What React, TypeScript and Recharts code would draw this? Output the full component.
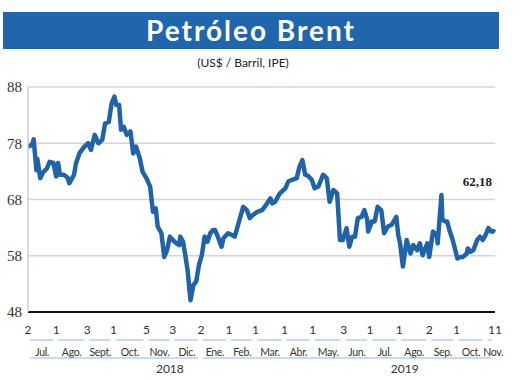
import { CartesianGrid, Line, LineChart, XAxis, YAxis } from "recharts";

// days counted from 2 Jul 2018
const days = [
  0, 3, 5, 6, 9, 10, 13, 16, 20, 23, 27, 30, 32, 34, 38, 42, 44, 47, 49, 51,
  55, 60, 64, 67, 71, 75, 79, 82, 86, 89, 92, 94, 97, 99, 102, 105, 109, 112,
  115, 119, 122, 126, 130, 133, 136, 138, 142, 145, 148, 151, 154, 158, 161,
  162, 165, 168, 170, 172, 173, 176, 179, 182, 185, 188, 191, 194, 197, 199,
  202, 206, 208, 213, 217, 220, 226, 229, 233, 236, 239, 244, 249, 252, 258,
  260, 263, 268, 274, 277, 281, 286, 289, 292, 295, 298, 302, 305, 309, 314,
  318, 321, 325, 329, 332, 335, 339, 342, 345, 348, 351, 355, 358, 361, 362,
  366, 369, 372, 376, 379, 383, 387, 392, 394, 396, 399, 403, 407, 410, 414,
  417, 420, 425, 427, 431, 435, 436, 440, 441, 444, 446, 449, 452, 457, 460,
  463, 467, 468, 471, 474, 478, 481, 484, 487, 490, 493, 495, 497,
];
const prices = [
  77.4, 77.6, 78.0, 78.7, 73.2, 75.2, 71.8, 72.8, 73.5, 74.7, 74.5, 72.1, 74.5,
  72.4, 72.4, 71.9, 70.9, 71.8, 72.4, 74.4, 76.3, 77.4, 78.0, 76.8, 79.5, 78.0,
  78.6, 81.5, 81.8, 85.1, 86.3, 84.8, 84.8, 80.4, 80.9, 79.5, 80.1, 76.2, 77.4,
  75.3, 72.9, 71.8, 70.3, 65.8, 66.4, 63.2, 62.0, 57.8, 59.0, 61.4, 60.8, 60.2,
  59.9, 61.4, 60.5, 57.5, 55.2, 51.6, 50.1, 52.8, 53.4, 56.4, 58.1, 61.4, 60.5,
  62.0, 62.6, 62.6, 61.4, 59.6, 61.1, 62.0, 61.7, 61.4, 64.9, 66.7, 66.1, 64.7,
  65.2, 65.8, 66.1, 66.7, 68.2, 67.3, 67.6, 69.1, 70.0, 71.2, 71.5, 71.8, 73.9,
  75.0, 72.4, 72.2, 71.5, 70.0, 70.3, 72.4, 71.8, 67.6, 69.7, 69.1, 60.8, 60.8,
  62.9, 59.6, 61.4, 61.4, 64.7, 64.9, 66.1, 64.4, 62.3, 64.1, 64.1, 66.7, 66.1,
  62.0, 63.2, 63.5, 64.9, 61.7, 60.2, 56.1, 60.8, 58.4, 59.9, 59.0, 60.2, 58.1,
  60.2, 57.8, 62.3, 61.7, 60.2, 68.8, 64.4, 64.1, 64.1, 62.3, 60.8, 57.5, 57.8,
  57.8, 58.4, 59.3, 58.7, 59.0, 60.8, 61.4, 60.8, 61.7, 62.9, 62.3, 62.4, 62.18,
];

// month starts (days from 2 Jul 2018) and the closing day
const tickDays = [
  0, 30, 63, 91, 126, 154, 184, 214, 242, 273, 303, 336, 364, 395, 427, 456,
  487, 497,
];
const dayLabels = [
  "2", "1", "3", "1", "5", "3", "2", "1", "1", "1", "1", "3", "1", "1", "2",
  "1", "", "11",
];
const monthNames = [
  "Jul.", "Ago.", "Sept.", "Oct.", "Nov.", "Dic.", "Ene.", "Feb.", "Mar.",
  "Abr.", "May.", "Jun.", "Jul.", "Ago.", "Sep.", "Oct.", "Nov.",
];
const years = ["2018", "2019"];
const yearStarts = [0, 184, 497];
const yearLabelDays = [151, 401];
const yTicks = [48, 58, 68, 78, 88];
const lastLabel = "62,18";

const data = days.map((d, i) => ({ d, price: prices[i] }));

const LAST_DAY = tickDays[tickDays.length - 1];
const PLOT_LEFT = 28;
const PLOT_RIGHT = 25;
const PLOT_W = 520 - PLOT_LEFT - PLOT_RIGHT;
const pxPerDay = PLOT_W / LAST_DAY;

const BLUE = "#1f63a8";
const LIGHT = "#8fb8dc";
const narrow = "'Liberation Sans Narrow', Lato, sans-serif";

function DayTick(props: any) {
  const { x, y, payload } = props;
  const i = tickDays.indexOf(payload.value);
  const hasMonth = i >= 0 && i < monthNames.length;
  const w = hasMonth ? (tickDays[i + 1] - tickDays[i]) * pxPerDay : 0;
  // the last (partial) month label sits a little past its midpoint, as in the print
  const mid = i === monthNames.length - 1 ? w / 2 + 3 : w / 2;
  return (
    <g>
      <text x={x} y={y + 22} textAnchor="middle" fontSize={12} fill="#333" fontFamily={narrow}>
        {dayLabels[i]}
      </text>
      {hasMonth && (
        <>
          <line x1={x + 2} x2={x + w - 3} y1={y + 28} y2={y + 28} stroke={LIGHT} strokeWidth={1} />
          <text
            x={x + mid}
            y={y + 44}
            textAnchor="middle"
            fontSize={10.5}
            letterSpacing={-0.3}
            fill="#333"
            fontFamily={narrow}
          >
            {monthNames[i]}
          </text>
        </>
      )}
    </g>
  );
}

function YearTick(props: any) {
  const { x, y, payload } = props;
  const i = yearLabelDays.indexOf(payload.value);
  const x1 = x - (yearLabelDays[i] - yearStarts[i]) * pxPerDay;
  const x2 = x + (yearStarts[i + 1] - yearLabelDays[i]) * pxPerDay;
  return (
    <g>
      <line x1={x1 + 2} x2={x2 - 3} y1={y - 2} y2={y - 2} stroke={LIGHT} strokeWidth={1} />
      <text x={x} y={y + 13} textAnchor="middle" fontSize={12} fill="#333" fontFamily={narrow}>
        {years[i]}
      </text>
    </g>
  );
}

function LastLabel(props: any) {
  const { x, y, index } = props;
  if (index !== data.length - 1) return null;
  return (
    <text x={x - 3} y={y - 46} textAnchor="end" fontSize={13} fontWeight="bold" fill="#222" fontFamily="'Liberation Serif', serif">
      {lastLabel}
    </text>
  );
}

export default function App() {
  return (
    <div style={{ position: "absolute", left: 0, top: 0, width: 520, height: 380, background: "#fff" }}>
      <div
        style={{
          position: "absolute", left: 3, top: 12, width: 496, height: 37,
          background: "#1f66ad", color: "#fff", textAlign: "center",
          fontFamily: "Lato, sans-serif", fontWeight: 700, fontSize: 28,
          letterSpacing: 2, lineHeight: "37px",
        }}
      >
        Petróleo Brent
      </div>
      <div
        style={{
          position: "absolute", left: 0, top: 55, width: 486, textAlign: "center",
          fontFamily: "Lato, sans-serif", fontSize: 12, color: "#222",
        }}
      >
        (US$ / Barril, IPE)
      </div>
      <LineChart width={520} height={380} data={data} margin={{ top: 87, right: PLOT_RIGHT, bottom: 0, left: 0 }}>
        <CartesianGrid vertical={false} stroke="#d4d4d4" strokeWidth={1.5} />
        <XAxis
          xAxisId="day"
          dataKey="d"
          type="number"
          domain={[0, LAST_DAY]}
          ticks={tickDays}
          interval={0}
          tick={<DayTick />}
          tickLine={false}
          tickSize={0}
          tickMargin={0}
          height={48}
          axisLine={{ stroke: "#111", strokeWidth: 2 }}
        />
        <XAxis
          xAxisId="yr"
          dataKey="d"
          type="number"
          domain={[0, LAST_DAY]}
          ticks={yearLabelDays}
          interval={0}
          tick={<YearTick />}
          tickLine={false}
          tickSize={0}
          tickMargin={0}
          height={20}
          axisLine={false}
        />
        <YAxis
          domain={[48, 88]}
          ticks={yTicks}
          interval={0}
          width={PLOT_LEFT}
          tickLine={false}
          tickSize={6}
          tickMargin={0}
          axisLine={{ stroke: "#cfcfcf", strokeWidth: 1.5 }}
          tick={{ fontSize: 15, fill: "#333", fontFamily: "'Liberation Serif', serif" }}
        />
        <Line
          xAxisId="day"
          dataKey="price"
          type="linear"
          stroke={BLUE}
          strokeWidth={4.5}
          strokeLinejoin="round"
          dot={false}
          isAnimationActive={false}
          label={<LastLabel />}
        />
      </LineChart>
    </div>
  );
}
